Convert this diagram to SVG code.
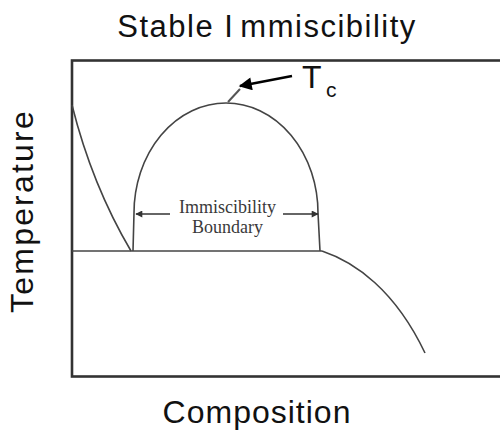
<svg xmlns="http://www.w3.org/2000/svg" width="500" height="432" viewBox="0 0 500 432">
<style>
.lbl{font-family:"Liberation Sans",Arial,sans-serif;fill:#111}
.plot{fill:none;stroke:#444;stroke-width:1.6}
.ser{font-family:"Liberation Serif","Times New Roman",serif;font-size:18px;fill:#3a3a3a;text-anchor:middle}
</style>
<defs>
<marker id="sm" viewBox="0 0 10 10" refX="9" refY="5" markerWidth="9" markerHeight="7" orient="auto" markerUnits="userSpaceOnUse">
<path d="M0,0 L10,5 L0,10 z" fill="#333"/>
</marker>
<marker id="big" viewBox="0 0 10 10" refX="9" refY="5" markerWidth="16" markerHeight="13" orient="auto" markerUnits="userSpaceOnUse">
<path d="M0,0 L10,5 L0,10 z" fill="#000"/>
</marker>
</defs>
<rect width="500" height="432" fill="#fff"/>
<g id="title"><text class="lbl" x="267" y="37" font-size="31" text-anchor="middle" letter-spacing="1.5">Stable I<tspan dx="6">mmiscibility</tspan></text></g>
<g id="ylabel"><text class="lbl" font-size="32" text-anchor="middle" letter-spacing="2.2" transform="translate(33,211) rotate(-90)">Temperature</text></g>
<g id="xlabel"><text class="lbl" x="257" y="423" font-size="32" text-anchor="middle" letter-spacing="1">Composition</text></g>
<g id="frame"><rect x="72" y="60.5" width="440" height="316" fill="none" stroke="#333" stroke-width="2.6"/></g>
<g id="curves">
<path class="plot" d="M72,105 Q92,185 131,251"/>
<path class="plot" d="M72,251 L322,251"/>
<path class="plot" d="M133,251 L134,213 A92,110 0 0 1 318,213 L320,251"/>
<path class="plot" d="M322,251 C355,262 395,290 425,353"/>
</g>
<g id="boundary-label">
<text class="ser" x="227.5" y="213">Immiscibility</text>
<text class="ser" x="227.5" y="233">Boundary</text>
</g>
<g id="connectors">
<line x1="170" y1="214" x2="136" y2="214" stroke="#333" stroke-width="1.6" marker-end="url(#sm)"/>
<line x1="283" y1="214" x2="318" y2="214" stroke="#333" stroke-width="1.6" marker-end="url(#sm)"/>
<line x1="228" y1="102" x2="240" y2="89" stroke="#555" stroke-width="2"/>
<line x1="292" y1="76" x2="240" y2="86" stroke="#000" stroke-width="2.5" marker-end="url(#big)"/>
</g>
<g id="tc"><text class="lbl" x="302" y="88" font-size="32">T</text><text class="lbl" x="326" y="97" font-size="21">c</text></g>
</svg>
